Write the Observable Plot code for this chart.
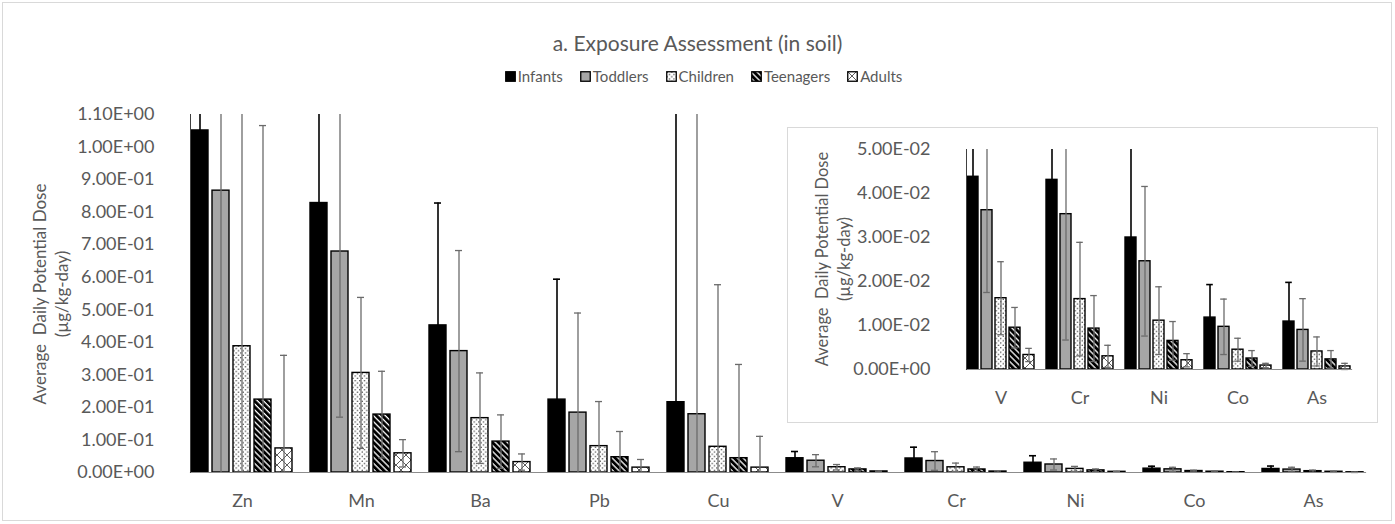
<!DOCTYPE html>
<html><head><meta charset="utf-8">
<script src="https://cdn.jsdelivr.net/npm/d3@7"></script>
<script src="https://cdn.jsdelivr.net/npm/@observablehq/plot@0.6"></script>
<style>
body{margin:0;background:#fff;font-family:Lato,"Open Sans",sans-serif;color:#595959;}
#wrap{position:relative;width:1395px;height:524px;overflow:hidden;background:#fff;}
#border{position:absolute;left:2px;top:2px;width:1388px;height:517px;border:1px solid #d9d9d9;}
#title{position:absolute;left:0;top:30px;width:1395px;text-align:center;font-size:21px;color:#595959;}
#legend{position:absolute;left:6px;top:67px;width:1395px;display:flex;justify-content:center;gap:17px;font-size:15px;color:#595959;}
#legend span{display:flex;align-items:center;gap:2px;}
.ytitle{position:absolute;transform:translate(-50%,-50%) rotate(-90deg);text-align:center;white-space:pre;line-height:22px;color:#595959;}
#main{position:absolute;left:0;top:0;}
#inset{position:absolute;left:787px;top:127px;width:589px;height:294px;border:1px solid #d9d9d9;background:#fff;}
#insetPlot{position:absolute;left:0;top:0;}
</style></head><body>
<svg width="0" height="0" style="position:absolute"><defs>
<pattern id="p-dots" width="4.6" height="4.6" patternUnits="userSpaceOnUse"><rect width="4.6" height="4.6" fill="#fff"/><circle cx="1.15" cy="1.15" r="0.6" fill="#000"/><circle cx="3.45" cy="3.45" r="0.6" fill="#000"/></pattern>
<pattern id="p-diag" width="4.2" height="4.2" patternUnits="userSpaceOnUse" patternTransform="rotate(-45)"><rect width="4.2" height="4.2" fill="#fff"/><rect width="2.9" height="4.2" fill="#000"/></pattern>
<pattern id="p-cross" width="10" height="10" patternUnits="userSpaceOnUse"><rect width="10" height="10" fill="#fff"/><path d="M0,0L10,10M10,0L0,10" stroke="#333" stroke-width="0.8"/></pattern>
</defs></svg>
<div id="wrap">
  <div id="border"></div>
  <div id="main"></div>
  <div id="title">a. Exposure Assessment (in soil)</div>
  <div id="legend"></div>
  <div class="ytitle" style="left:51px;top:294px;font-size:17px;">Average  Daily Potential Dose
(µg/kg-day)</div>
  <div id="inset"><div id="insetPlot"></div>
    <div class="ytitle" style="left:45px;top:131px;font-size:16.5px;">Average  Daily Potential Dose
(µg/kg-day)</div>
  </div>
</div>
<script>
// ---- data ----
const categories = ["Zn","Mn","Ba","Pb","Cu","V","Cr","Ni","Co","As"];
const insetCategories = ["V","Cr","Ni","Co","As"];
const groups = ["Infants","Toddlers","Children","Teenagers","Adults"];

const infants   = [1.051, 0.828, 0.452, 0.224, 0.216, 0.0438, 0.0431, 0.0300, 0.0118, 0.0109];
const toddlers  = [0.866, 0.679, 0.373, 0.184, 0.179, 0.0362, 0.0353, 0.0246, 0.0097, 0.0090];
const children  = [0.388, 0.306, 0.167, 0.081, 0.079, 0.0162, 0.0160, 0.0111, 0.0045, 0.0041];
const teenagers = [0.224, 0.178, 0.095, 0.047, 0.044, 0.0095, 0.0093, 0.0065, 0.0025, 0.0023];
const adults    = [0.074, 0.059, 0.032, 0.015, 0.015, 0.0033, 0.0030, 0.0021, 0.0009, 0.0007];

const infantsErr   = [0.700, 0.550, 0.376, 0.370, 1.000, 0.0207, 0.0347, 0.0215, 0.0075, 0.0089];
const toddlersErr  = [0.950, 0.509, 0.309, 0.306, 1.050, 0.0187, 0.0286, 0.0170, 0.0063, 0.0071];
const childrenErr  = [0.800, 0.232, 0.139, 0.137, 0.498, 0.0083, 0.0129, 0.0077, 0.0026, 0.0033];
const teenagersErr = [0.842, 0.133, 0.082, 0.079, 0.288, 0.0046, 0.0075, 0.0044, 0.0018, 0.0020];
const adultsErr    = [0.286, 0.042, 0.025, 0.025, 0.096, 0.0015, 0.0025, 0.0015, 0.0005, 0.0007];

const mainTicks  = [0, 0.1, 0.2, 0.3, 0.4, 0.5, 0.6, 0.7, 0.8, 0.9, 1.0, 1.1];
const insetTicks = [0, 0.01, 0.02, 0.03, 0.04, 0.05];

const fills = ["#000000", "#a6a6a6", "url(#p-dots)", "url(#p-diag)", "url(#p-cross)"];

const valueSeries = [infants, toddlers, children, teenagers, adults];
const errSeries = [infantsErr, toddlersErr, childrenErr, teenagersErr, adultsErr];
const rows = categories.flatMap((c, i) => groups.map((g, j) => ({cat: c, group: g, value: valueSeries[j][i], err: errSeries[j][i]})));

function fmt(d) {
  const [m, e] = d.toExponential(2).split("e");
  const n = Math.abs(+e);
  return m + "E" + (+e < 0 ? "-" : "+") + String(n).padStart(2, "0");
}

function chart({cats, ymax, ticks, width, height, mt, mr, mb, ml, capInset, xPad, fs}) {
  const data = rows.filter(d => cats.includes(d.cat)).map(d => ({...d,
    lo: Math.max(0, d.value - d.err), hi: Math.min(ymax, d.value + d.err),
    hiCap: d.value + d.err <= ymax, loCap: d.value - d.err >= 0}));
  const inf = data.filter(d => d.group === "Infants");
  const oth = data.filter(d => d.group !== "Infants");
  return Plot.plot({
    width, height, marginTop: mt, marginRight: mr, marginBottom: mb, marginLeft: ml,
    style: {fontFamily: "Lato, sans-serif", fontSize: fs + "px", color: "#595959", background: "transparent", overflow: "visible"},
    fx: {domain: cats, paddingInner: 0.13, paddingOuter: 0.065, label: null},
    x: {domain: groups, paddingInner: 0.18, paddingOuter: 0.04, axis: null},
    y: {domain: [0, ymax], axis: null},
    color: {type: "ordinal", domain: groups, range: fills},
    marks: [
      Plot.barY(data, {fx: "cat", x: "group", y: "value", fill: "group", stroke: "#000", strokeWidth: 1.4}),
      Plot.ruleX(oth, {fx: "cat", x: "group", y1: "lo", y2: "hi", stroke: "#6b6b6b", strokeWidth: 1.3}),
      Plot.ruleX(inf, {fx: "cat", x: "group", y1: "lo", y2: "hi", stroke: "#000", strokeWidth: 1.6}),
      Plot.tickY(oth.filter(d => d.hiCap), {fx: "cat", x: "group", y: "hi", stroke: "#6b6b6b", strokeWidth: 1.3, insetLeft: capInset, insetRight: capInset}),
      Plot.tickY(oth.filter(d => d.loCap), {fx: "cat", x: "group", y: "lo", stroke: "#6b6b6b", strokeWidth: 1.3, insetLeft: capInset, insetRight: capInset}),
      Plot.tickY(inf.filter(d => d.hiCap), {fx: "cat", x: "group", y: "hi", stroke: "#000", strokeWidth: 1.6, insetLeft: capInset, insetRight: capInset}),
      Plot.frame({anchor: "bottom", facet: "super", stroke: "#8c8c8c", strokeWidth: 1.2}),
      Plot.frame({anchor: "left", facet: "super", stroke: "#404040", strokeWidth: 1}),
      Plot.axisY({ticks, tickFormat: fmt, tickSize: 0, tickPadding: 21, dx: -15, fill: "#595959", fontSize: fs, label: null}),
      Plot.axisFx({anchor: "bottom", tickSize: 0, tickPadding: xPad, fill: "#595959", fontSize: fs, label: null})
    ]
  });
}

document.getElementById("main").append(chart({cats: categories, ymax: 1.1, ticks: mainTicks,
  width: 1395, height: 524, mt: 114, mr: 18, mb: 52, ml: 178, capInset: 5, xPad: 22, fs: 18}));
document.getElementById("insetPlot").append(chart({cats: insetCategories, ymax: 0.05, ticks: insetTicks,
  width: 589, height: 294, mt: 21, mr: 20, mb: 53, ml: 171, capInset: 2.2, xPad: 22, fs: 18}));

// legend
const leg = document.getElementById("legend");
groups.forEach((g, j) => {
  const s = document.createElement("span");
  s.innerHTML = `<svg width="11" height="11"><rect x="0.75" y="0.75" width="9.5" height="9.5" fill="${fills[j]}" stroke="#000" stroke-width="1.3"/></svg>${g}`;
  leg.append(s);
});
</script>
</body></html>
